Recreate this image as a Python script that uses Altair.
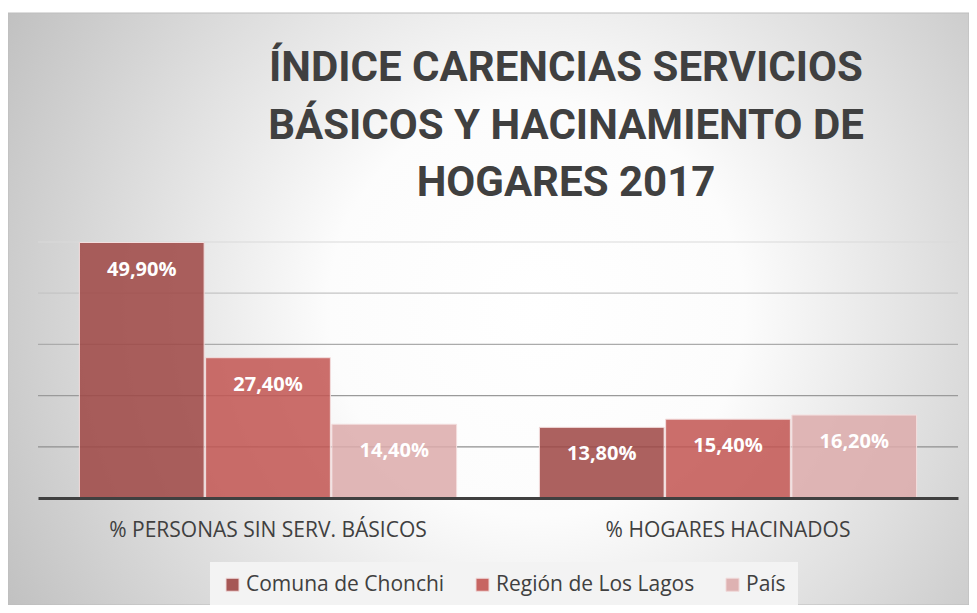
import altair as alt
import pandas as pd

# ---- data ----
categories = ["% PERSONAS SIN SERV. BÁSICOS", "% HOGARES HACINADOS"]
series = ["Comuna de Chonchi", "Región de Los Lagos", "País"]
chonchi = [49.9, 13.8]
los_lagos = [27.4, 15.4]
pais = [14.4, 16.2]
grid_values = [10, 20, 30, 40, 50]
title_lines = ["ÍNDICE  CARENCIAS SERVICIOS", "BÁSICOS Y HACINAMIENTO DE", "HOGARES 2017"]

rows = []
for s, vals in zip(series, [chonchi, los_lagos, pais]):
    for c, v in zip(categories, vals):
        rows.append({"categoria": c, "serie": s, "valor": v,
                     "etiqueta": f"{v:.2f}%".replace(".", ",")})
df = pd.DataFrame(rows)

# ---- layout ----
W, H = 920, 256
PAD_L, PAD_T = 30, 234
TOTAL_W, TOTAL_H = 961, 597
PAD_R = TOTAL_W - PAD_L - W
PAD_B = TOTAL_H - PAD_T - H

bar_colors = ["#9e4745", "#c35653", "#dcabab"]
grid_colors = ["#8f8f8f", "#9a9a9a", "#ababab", "#c4c4c4", "#dadada"]

y_scale = alt.Scale(domain=[0, 50], nice=False, zero=True)

x_enc = alt.X(
    "categoria:N", sort=categories, title=None,
    scale=alt.Scale(paddingInner=0.18, paddingOuter=0.09),
    axis=alt.Axis(labelFont="Open Sans", labelFontSize=21, labelColor="#404040",
                  labelAngle=0, ticks=False, domainColor="#404040", domainWidth=3,
                  labelPadding=32, labelBaseline="middle", grid=False, labelLimit=500,
                  zindex=1),
)
x_off = alt.XOffset("serie:N", sort=series, scale=alt.Scale(paddingInner=0.012))
y_enc = alt.Y("valor:Q", scale=y_scale, axis=None)

background = alt.Chart(pd.DataFrame({"a": [0]})).mark_rect(
    fill=alt.RadialGradient(
        gradient="radial",
        stops=[alt.GradientStop(offset=0, color="#ffffff"),
               alt.GradientStop(offset=0.3, color="#fcfcfc"),
               alt.GradientStop(offset=1, color="#b4b4b4")],
        x1=0.55, y1=0.5, x2=0.55, y2=0.5, r1=0, r2=0.72),
    stroke="#bdbdbd", strokeWidth=1,
).encode(
    x=alt.value(-PAD_L), x2=alt.value(TOTAL_W - PAD_L),
    y=alt.value(5 - PAD_T), y2=alt.value(TOTAL_H - PAD_T),
)

title = alt.Chart(pd.DataFrame({"a": [0]})).mark_text(
    text=title_lines, font="Roboto", fontSize=42, fontWeight="bold",
    color="#404040", align="center", baseline="alphabetic", lineHeight=57.5,
).encode(x=alt.value(528), y=alt.value(-161))

grid = alt.Chart(pd.DataFrame({"g": grid_values})).mark_rule(strokeWidth=1.2).encode(
    y=alt.Y("g:Q", scale=y_scale, axis=None),
    stroke=alt.Stroke("g:O", scale=alt.Scale(domain=grid_values, range=grid_colors), legend=None),
)

base = alt.Chart(df)

bars = base.mark_bar(fillOpacity=0.86, stroke="#f3dede", strokeWidth=1).encode(
    x=x_enc, xOffset=x_off, y=y_enc,
    color=alt.Color(
        "serie:N", sort=series,
        scale=alt.Scale(domain=series, range=bar_colors),
        legend=alt.Legend(
            title=None, orient="none", legendX=172, legendY=320,
            direction="horizontal", symbolType="square", symbolSize=169,
            labelFont="Open Sans", labelFontSize=21, labelColor="#404040",
            labelLimit=500, columnPadding=27, labelOffset=3,
            fillColor="#f3f3f3", padding=12, symbolStrokeWidth=1,
            symbolStrokeColor="#f0d6d6", symbolOpacity=0.9,
        ),
    ),
)

labels = base.mark_text(font="Open Sans", fontSize=20, fontWeight="bold",
                        color="white", baseline="middle", dy=27).encode(
    x=x_enc, xOffset=x_off, y=y_enc, text="etiqueta:N",
)

chart = alt.layer(background, title, grid, bars, labels).properties(
    width=W, height=H,
    autosize=alt.AutoSizeParams(type="none"),
    padding={"left": PAD_L, "top": PAD_T, "right": PAD_R, "bottom": PAD_B},
).configure_view(stroke=None).configure(background="white")

chart.save("out.html", embed_options={"renderer": "svg", "actions": False})
